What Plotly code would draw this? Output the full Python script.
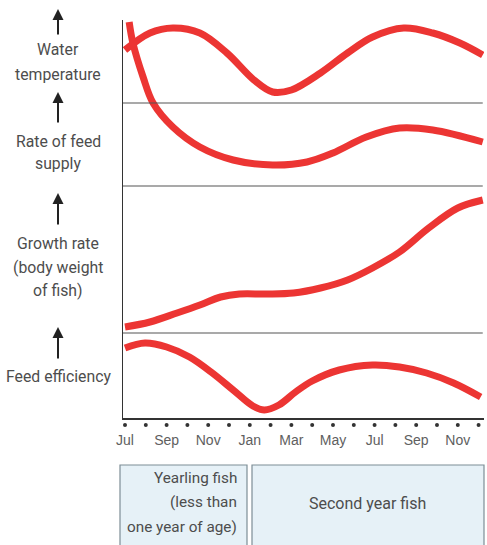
import plotly.graph_objects as go

# ---- data (x in months from first July; y in relative height units) ----
month_labels = ["Jul", "Sep", "Nov", "Jan", "Mar", "May", "Jul", "Sep", "Nov"]
month_ticks = [0, 2, 4, 6, 8, 10, 12, 14, 16]
dot_months = list(range(18))

water_x = [0, 1.2, 2.3, 3.6, 4.9, 6.2, 7.1, 8.0, 9.4, 10.7, 11.9, 13.4, 14.8, 16.1, 17.2]
water_y = [368, 385, 390, 385, 365, 338, 326, 328, 345, 365, 381, 390, 385, 375, 363]

feed_x = [0.2, 0.38, 0.87, 1.35, 2.3, 3.6, 5.2, 7.1, 8.75, 10.0, 11.6, 13.2, 14.8, 17.2]
feed_y = [396, 375, 341, 315, 291, 271, 258, 253, 256, 265, 281, 290, 288, 276]

growth_x = [0, 1.2, 2.5, 3.6, 4.6, 5.5, 6.8, 8.1, 9.4, 10.7, 11.9, 13.2, 14.6, 16.0, 17.2]
growth_y = [91, 96, 105, 113, 121, 124, 124, 125, 130, 138, 150, 166, 190, 210, 218]

eff_x = [0, 0.96, 2.0, 3.1, 4.2, 5.2, 6.15, 6.7, 7.4, 8.2, 9.0, 10.3, 11.9, 13.2, 14.5, 15.8, 17.1]
eff_y = [70, 75, 71, 61, 45, 28, 12, 8, 13, 26, 37, 48, 53, 51, 45, 35, 21]

panel_labels = [
    ("Water", 50), ("temperature", 74),
    ("Rate of feed", 141), ("supply", 164),
    ("Growth rate", 243), ("(body weight", 267), ("of fish)", 290),
    ("Feed efficiency", 376),
]
arrows = [(9, 36), (92, 124), (193, 226), (327, 360)]
separators_y = [315, 232, 85]

# ---- layout geometry (pixels) ----
W, H = 487, 545
L, R, T = 123, 3, 20
AXIS_PY = 418          # pixel row of the bottom axis line
PB = 432               # bottom of plotting region (dot strip below the axis)
B = H - PB
PW, PH = W - L - R, PB - T
X0, X1 = -0.096, 17.26
Y0, Y1 = 0, 398
split = (PB - AXIS_PY) / PH


def px_x(px):
    return (px - L) / PW


def px_y(py):
    return (PB - py) / PH


RED = "#ec3533"
FONT = "Roboto, Liberation Sans, sans-serif"
TICKFONT = "Liberation Sans, Arial, sans-serif"
TXT = "#4d4d4d"

fig = go.Figure()
for xs, ys in [(water_x, water_y), (feed_x, feed_y), (growth_x, growth_y), (eff_x, eff_y)]:
    fig.add_trace(go.Scatter(x=xs, y=ys, mode="lines", xaxis="x", yaxis="y",
                             line=dict(color=RED, width=7, shape="spline", smoothing=1.0),
                             hoverinfo="skip", showlegend=False))

fig.add_trace(go.Scatter(x=dot_months, y=[-7] * len(dot_months), mode="markers",
                         xaxis="x", yaxis="y2",
                         marker=dict(color="#333333", size=4),
                         hoverinfo="skip", showlegend=False))

shapes = []
for sy in separators_y:
    shapes.append(dict(type="line", xref="x", yref="y", x0=X0, x1=17.2, y0=sy, y1=sy,
                       line=dict(color="#555555", width=1.2)))
shapes.append(dict(type="rect", xref="paper", yref="paper",
                   x0=px_x(120), x1=px_x(247), y0=px_y(465), y1=px_y(548),
                   fillcolor="#e6f1f7", line=dict(color="#7d8e96", width=1.2), layer="below"))
shapes.append(dict(type="rect", xref="paper", yref="paper",
                   x0=px_x(252), x1=px_x(484), y0=px_y(465), y1=px_y(548),
                   fillcolor="#e6f1f7", line=dict(color="#7d8e96", width=1.2), layer="below"))

annotations = []
for text, cy in panel_labels:
    annotations.append(dict(text=text, xref="paper", yref="paper", x=px_x(58), y=px_y(cy),
                            xanchor="center", yanchor="middle", showarrow=False,
                            font=dict(family=FONT, size=15.8, color=TXT)))
for head, tail in arrows:
    annotations.append(dict(text="", xref="paper", yref="paper", x=px_x(58), y=px_y(head),
                            ax=0, ay=tail - head, axref="pixel", ayref="pixel",
                            showarrow=True, arrowhead=2, arrowsize=1.1, arrowwidth=2,
                            arrowcolor="#222222", standoff=0, startstandoff=0))
for text, cy in [("Yearling fish", 478), ("(less than", 502), ("one year of age)", 527)]:
    annotations.append(dict(text=text, xref="paper", yref="paper", x=px_x(239), y=px_y(cy),
                            xanchor="right", yanchor="middle", showarrow=False,
                            font=dict(family=FONT, size=15.3, color=TXT)))
annotations.append(dict(text="Second year fish", xref="paper", yref="paper", x=px_x(367),
                        y=px_y(503), xanchor="center", yanchor="middle", showarrow=False,
                        font=dict(family=FONT, size=16, color=TXT)))

fig.update_layout(
    width=W, height=H, margin=dict(l=L, r=R, t=T, b=B),
    paper_bgcolor="white", plot_bgcolor="white",
    shapes=shapes, annotations=annotations,
    xaxis=dict(range=[X0, X1], showgrid=False, zeroline=False, showline=True,
               anchor="y", linecolor="#333333", linewidth=1.6, tickmode="array",
               tickvals=month_ticks, ticktext=month_labels, ticks="",
               ticklabelstandoff=9, tickfont=dict(family=TICKFONT, size=14, color="#606060")),
    yaxis=dict(range=[Y0, Y1], domain=[split, 1], showgrid=False, zeroline=False,
               showline=True, linecolor="#333333", linewidth=1.5,
               showticklabels=False, ticks="", anchor="x"),
    yaxis2=dict(range=[-14, 0], domain=[0, split], showgrid=False, zeroline=False,
                showline=False, showticklabels=False, ticks="", anchor="x"),
)

fig.write_html("out.html", config={"displayModeBar": False, "staticPlot": True},
               post_script="document.body.style.margin='0';document.body.style.overflow='hidden';")
